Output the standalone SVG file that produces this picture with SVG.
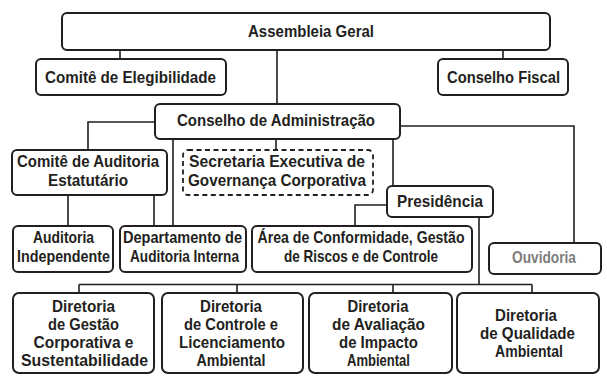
<svg xmlns="http://www.w3.org/2000/svg" width="607" height="380" viewBox="0 0 607 380">
<style>
.box{fill:#fff;stroke:#231f20;stroke-width:2}
.dash{fill:#fff;stroke:#231f20;stroke-width:1.8;stroke-dasharray:5 3.5}
.ln{fill:none;stroke:#231f20;stroke-width:1.6}
text{font-family:"Liberation Sans",Arial,sans-serif;font-weight:bold;font-size:17px;fill:#231f20;text-anchor:middle}
.grey{fill:#7d7d7d}
</style>
<rect width="607" height="380" fill="#fff"/>
<g id="connectors">
<path class="ln" d="M120,50V59M503,50V59M277,50V104"/>
<path class="ln" d="M155,122H88V150"/>
<path class="ln" d="M173,139V226M276,139V150M393,139V186"/>
<path class="ln" d="M400,126H574V243"/>
<path class="ln" d="M68,195V226M154,195V226"/>
<path class="ln" d="M387,205H355V226"/>
<path class="ln" d="M479,217V284.5M79,284.5H532M79,284.5V293M237,284.5V293M393,284.5V293M532,284.5V293"/>
</g>
<g id="assembleia">
<rect class="box" x="62" y="13" width="488" height="37" rx="5"/>
<text x="311" y="37" textLength="126" lengthAdjust="spacingAndGlyphs">Assembleia Geral</text>
</g>
<g id="comite-elegibilidade">
<rect class="box" x="36" y="59" width="190" height="36" rx="5"/>
<text x="130.5" y="83" textLength="171" lengthAdjust="spacingAndGlyphs">Comitê de Elegibilidade</text>
</g>
<g id="conselho-fiscal">
<rect class="box" x="438" y="59" width="130" height="36" rx="5"/>
<text x="503.5" y="83" textLength="113" lengthAdjust="spacingAndGlyphs">Conselho Fiscal</text>
</g>
<g id="conselho-administracao">
<rect class="box" x="155" y="104" width="245" height="35" rx="5"/>
<text x="276" y="126" textLength="198" lengthAdjust="spacingAndGlyphs">Conselho de Administração</text>
</g>
<g id="comite-auditoria">
<rect class="box" x="12" y="150" width="155" height="45" rx="5"/>
<text x="88" y="167" textLength="142" lengthAdjust="spacingAndGlyphs">Comitê de Auditoria</text>
<text x="88" y="186" textLength="80" lengthAdjust="spacingAndGlyphs">Estatutário</text>
</g>
<g id="secretaria">
<rect class="dash" x="183" y="150" width="190" height="45" rx="5"/>
<text x="277" y="167" textLength="176" lengthAdjust="spacingAndGlyphs">Secretaria Executiva de</text>
<text x="277" y="186" textLength="178" lengthAdjust="spacingAndGlyphs">Governança Corporativa</text>
</g>
<g id="presidencia">
<rect class="box" x="387" y="186" width="106" height="31" rx="5"/>
<text x="440" y="207" textLength="86" lengthAdjust="spacingAndGlyphs">Presidência</text>
</g>
<g id="auditoria-independente">
<rect class="box" x="13" y="226" width="100" height="46" rx="5"/>
<text x="63.5" y="243" textLength="61" lengthAdjust="spacingAndGlyphs">Auditoria</text>
<text x="63.5" y="262" textLength="93" lengthAdjust="spacingAndGlyphs">Independente</text>
</g>
<g id="departamento">
<rect class="box" x="120" y="226" width="126" height="46" rx="5"/>
<text x="182.5" y="243" textLength="119" lengthAdjust="spacingAndGlyphs">Departamento de</text>
<text x="184.5" y="262" textLength="109" lengthAdjust="spacingAndGlyphs">Auditoria Interna</text>
</g>
<g id="area-conformidade">
<rect class="box" x="252" y="226" width="220" height="46" rx="5"/>
<text x="361" y="243" textLength="207" lengthAdjust="spacingAndGlyphs">Área de Conformidade, Gestão</text>
<text x="361" y="262" textLength="154" lengthAdjust="spacingAndGlyphs">de Riscos e de Controle</text>
</g>
<g id="ouvidoria">
<rect class="box" x="489" y="243" width="112" height="31" rx="5"/>
<text class="grey" x="544" y="263" textLength="64" lengthAdjust="spacingAndGlyphs">Ouvidoria</text>
</g>
<g id="diretoria-gestao">
<rect class="box" x="13" y="293" width="141" height="80" rx="6"/>
<text x="83.5" y="312" textLength="63" lengthAdjust="spacingAndGlyphs">Diretoria</text>
<text x="83.5" y="330" textLength="71" lengthAdjust="spacingAndGlyphs">de Gestão</text>
<text x="83.5" y="348" textLength="100" lengthAdjust="spacingAndGlyphs">Corporativa e</text>
<text x="84.5" y="366" textLength="127" lengthAdjust="spacingAndGlyphs">Sustentabilidade</text>
</g>
<g id="diretoria-controle">
<rect class="box" x="162" y="293" width="141" height="80" rx="6"/>
<text x="231" y="312" textLength="62" lengthAdjust="spacingAndGlyphs">Diretoria</text>
<text x="231" y="330" textLength="94" lengthAdjust="spacingAndGlyphs">de Controle e</text>
<text x="232" y="348" textLength="106" lengthAdjust="spacingAndGlyphs">Licenciamento</text>
<text x="231" y="366" textLength="69" lengthAdjust="spacingAndGlyphs">Ambiental</text>
</g>
<g id="diretoria-avaliacao">
<rect class="box" x="309" y="293" width="143" height="80" rx="6"/>
<text x="378" y="312" textLength="61" lengthAdjust="spacingAndGlyphs">Diretoria</text>
<text x="378.5" y="330" textLength="93" lengthAdjust="spacingAndGlyphs">de Avaliação</text>
<text x="378.5" y="348" textLength="79" lengthAdjust="spacingAndGlyphs">de Impacto</text>
<text x="378.5" y="366" textLength="63" lengthAdjust="spacingAndGlyphs">Ambiental</text>
</g>
<g id="diretoria-qualidade">
<rect class="box" x="457" y="293" width="142" height="80" rx="6"/>
<text x="526" y="321" textLength="62" lengthAdjust="spacingAndGlyphs">Diretoria</text>
<text x="527.5" y="339" textLength="95" lengthAdjust="spacingAndGlyphs">de Qualidade</text>
<text x="529" y="357" textLength="68" lengthAdjust="spacingAndGlyphs">Ambiental</text>
</g>
</svg>
